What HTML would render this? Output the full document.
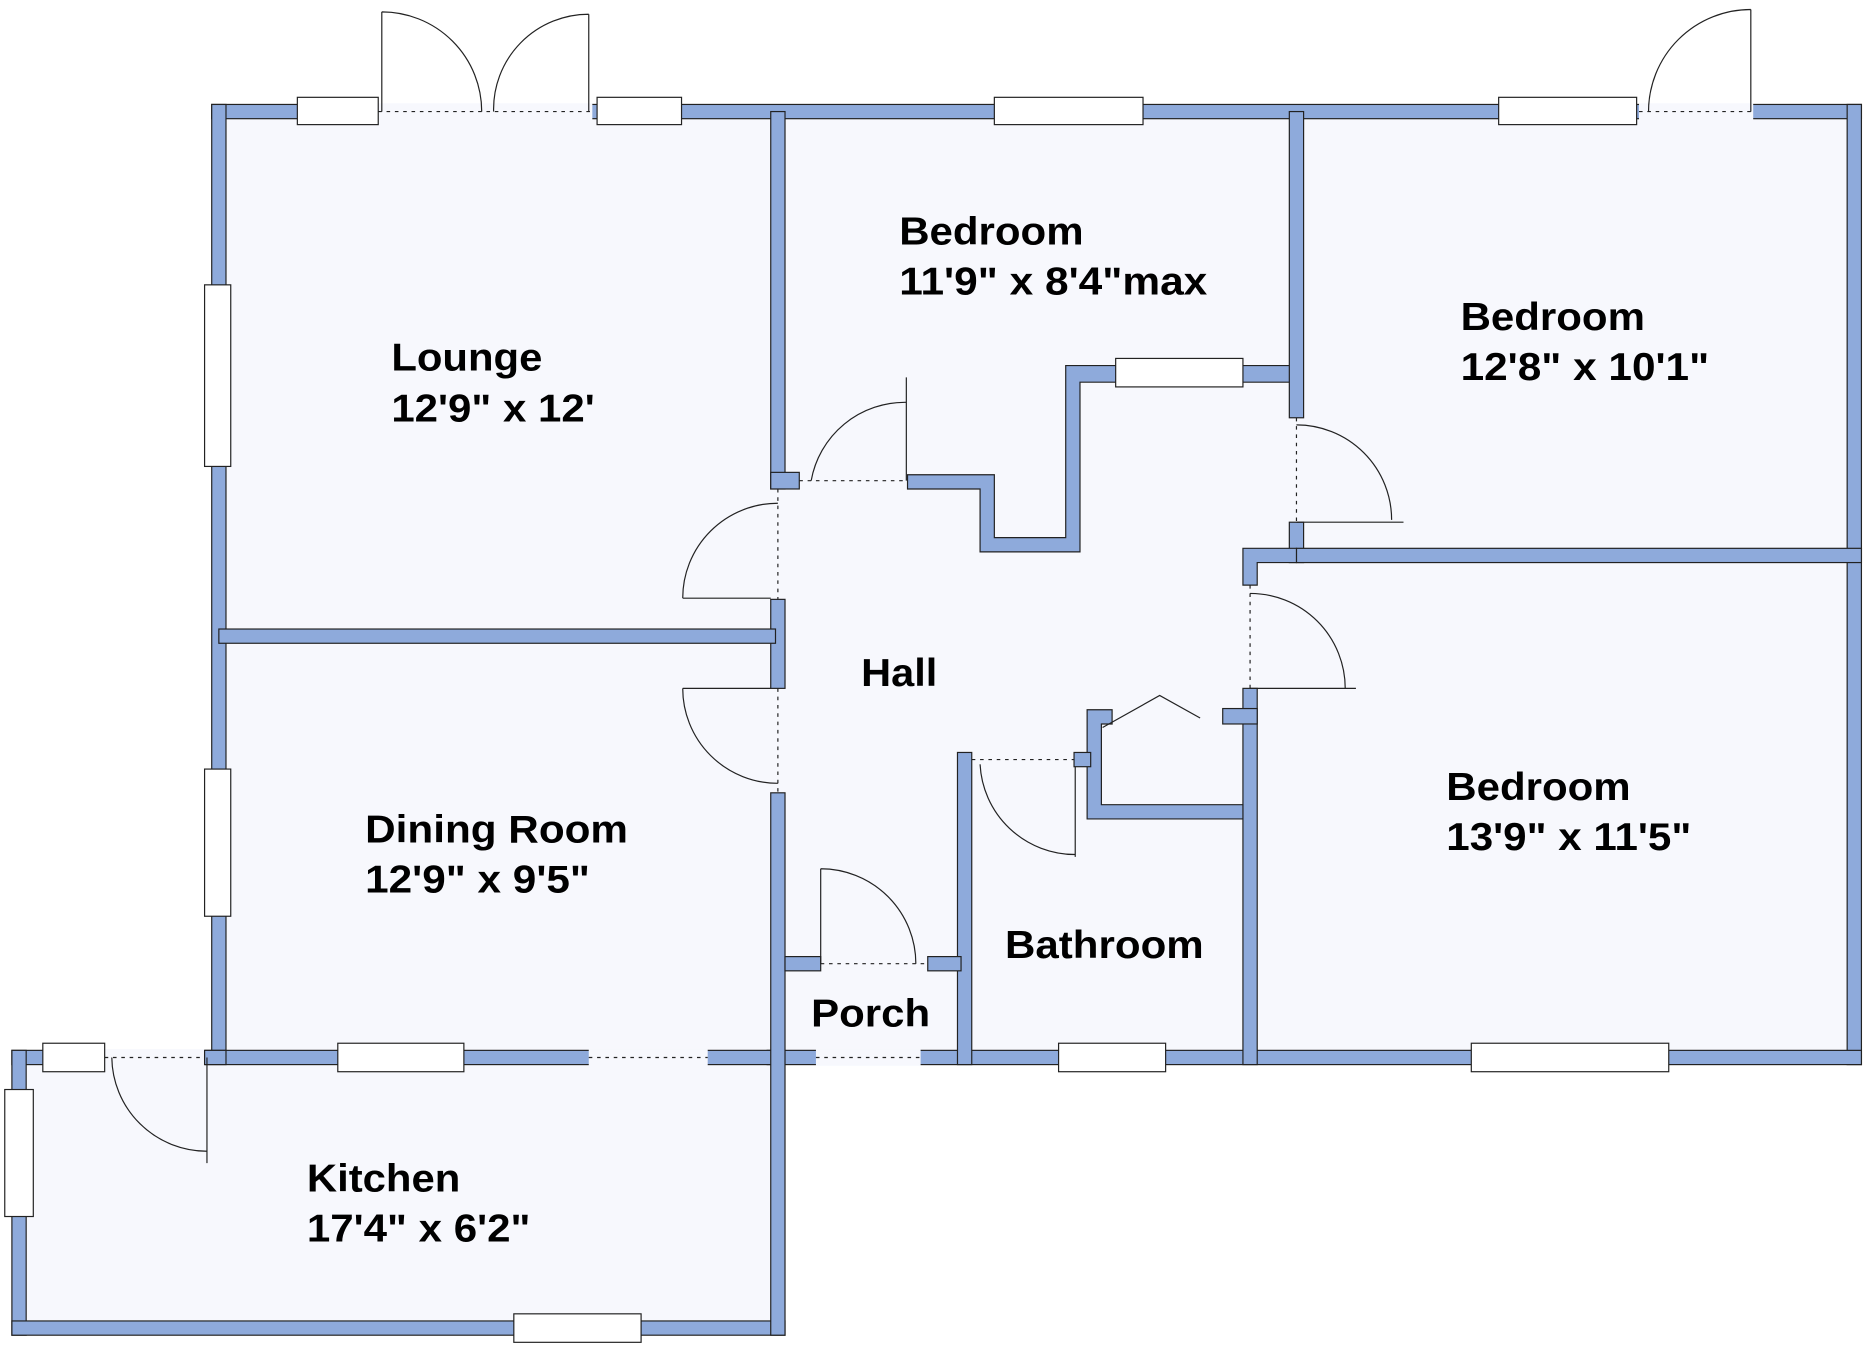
<!DOCTYPE html>
<html><head><meta charset="utf-8"><style>
html,body{margin:0;padding:0;background:#fff;}
svg{display:block}
text{font-family:"Liberation Sans",Arial,sans-serif;font-weight:bold;font-size:33px;fill:#000}
.w{fill:#8eaadb;stroke:#222;stroke-width:1}
.win{fill:#fff;stroke:#222;stroke-width:1}
.d{fill:none;stroke:#222;stroke-width:1}
.dot{stroke:#222;stroke-width:1;stroke-dasharray:3 4;fill:none}
</style></head><body>
<svg width="1865" height="1353" viewBox="0 0 1568 1140" preserveAspectRatio="none">
<rect width="1568" height="1140" fill="#fff"/>
<path d="M184 94 H1559 V891 H654 V1119 H16 V891 H184 Z" fill="#f7f8fd"/>
<rect class="w" x="178" y="88" width="1387" height="12"/>
<rect x="318" y="87" width="180" height="14" fill="#f7f8fd"/>
<rect x="1378" y="87" width="96" height="14" fill="#f7f8fd"/>
<line class="dot" x1="318" y1="94" x2="498" y2="94"/>
<line class="dot" x1="1378" y1="94" x2="1474" y2="94"/>
<rect class="win" x="250" y="82" width="68" height="23"/>
<rect class="win" x="502" y="82" width="71" height="23"/>
<rect class="win" x="836" y="82" width="125" height="23"/>
<rect class="win" x="1260" y="82" width="116" height="23"/>
<path class="d" d="M321 94 V10 M321 10 A84 84 0 0 1 405 94"/>
<path class="d" d="M495 94 V12 M495 12 A80 80 0 0 0 415 94"/>
<path class="d" d="M1472 94 V8 M1472 8 A86 86 0 0 0 1386 94"/>
<rect class="w" x="178" y="88" width="12" height="808"/>
<rect class="win" x="172" y="240" width="22" height="153"/>
<rect class="win" x="172" y="648" width="22" height="124"/>
<rect class="w" x="1553" y="88" width="12" height="809"/>
<rect class="w" x="645" y="885" width="920" height="12"/>
<rect x="686" y="884" width="88" height="14" fill="#f7f8fd"/>
<line class="dot" x1="686" y1="891" x2="774" y2="891"/>
<rect class="win" x="890" y="879" width="90" height="24"/>
<rect class="win" x="1237" y="879" width="166" height="24"/>
<rect class="w" x="10" y="885" width="640" height="12"/>
<rect x="495" y="884" width="100" height="14" fill="#f7f8fd"/>
<line class="dot" x1="495" y1="891" x2="595" y2="891"/>
<rect x="88" y="884" width="84" height="14" fill="#f7f8fd"/>
<line class="dot" x1="88" y1="891" x2="172" y2="891"/>
<rect class="w" x="172" y="885" width="18" height="12"/>
<rect class="win" x="36" y="879" width="52" height="24"/>
<rect class="win" x="284" y="879" width="106" height="24"/>
<path class="d" d="M174 891 V980 M174 970 A80 80 0 0 1 94 891"/>
<rect class="w" x="10" y="885" width="12" height="240"/>
<rect class="w" x="10" y="1113" width="650" height="12"/>
<rect class="w" x="648" y="668" width="12" height="457"/>
<rect class="win" x="4" y="918" width="24" height="107"/>
<rect class="win" x="432" y="1107" width="107" height="24"/>
<rect class="w" x="648" y="94" width="12" height="318"/>
<rect class="w" x="648" y="398" width="24" height="14"/>
<rect class="w" x="648" y="505" width="12" height="75"/>
<line class="dot" x1="654" y1="412" x2="654" y2="505"/>
<line class="dot" x1="654" y1="580" x2="654" y2="668"/>
<path class="d" d="M654 424 A80 80 0 0 0 574 504 M574 504 H648"/>
<path class="d" d="M654 660 A80 80 0 0 1 574 580 M574 580 H648"/>
<rect class="w" x="184" y="530" width="468" height="12"/>
<line class="dot" x1="672" y1="405" x2="763" y2="405"/>
<path class="d" d="M762 405 V318 M762 339 A80 80 0 0 0 682 405"/>
<path class="w" d="M763 400 H836 V453 H896 V308 H1090 V322 H908 V465 H824 V412 H763 Z"/>
<rect class="win" x="938" y="302" width="107" height="24"/>
<rect class="w" x="1084" y="94" width="12" height="258"/>
<rect class="w" x="1084" y="440" width="12" height="34"/>
<line class="dot" x1="1090" y1="352" x2="1090" y2="440"/>
<path class="d" d="M1090 440 H1180 M1090 358 A80 80 0 0 1 1170 438"/>
<rect class="w" x="1090" y="462" width="475" height="12"/>
<path class="w" d="M1045 462 H1090 V474 H1057 V493 H1045 Z"/>
<rect class="w" x="1045" y="580" width="12" height="317"/>
<rect class="w" x="1028" y="597" width="29" height="13"/>
<line class="dot" x1="1051" y1="493" x2="1051" y2="580"/>
<path class="d" d="M1051 580 H1140 M1051 500 A80 80 0 0 1 1131 580"/>
<path class="w" d="M914 598 H935 V610 H926 V678 H1045 V690 H914 Z"/>
<path class="d" d="M927 613 L975 586 L1009 605"/>
<rect class="w" x="805" y="634" width="12" height="263"/>
<rect class="w" x="903" y="634" width="14" height="12"/>
<line class="dot" x1="817" y1="640" x2="903" y2="640"/>
<path class="d" d="M904 646 V722 M904 720 A80 80 0 0 1 824 644"/>
<rect class="w" x="660" y="806" width="30" height="12"/>
<rect class="w" x="780" y="806" width="28" height="12"/>
<line class="dot" x1="690" y1="812" x2="780" y2="812"/>
<path class="d" d="M690 812 V732 M690 732 A80 80 0 0 1 770 812"/>
<text x="756" y="206" textLength="155" lengthAdjust="spacingAndGlyphs">Bedroom</text>
<text x="756" y="248" textLength="259" lengthAdjust="spacingAndGlyphs">11'9" x 8'4"max</text>
<text x="1228" y="278" textLength="155" lengthAdjust="spacingAndGlyphs">Bedroom</text>
<text x="1228" y="320" textLength="209" lengthAdjust="spacingAndGlyphs">12'8" x 10'1"</text>
<text x="329" y="312" textLength="127" lengthAdjust="spacingAndGlyphs">Lounge</text>
<text x="329" y="355" textLength="171" lengthAdjust="spacingAndGlyphs">12'9" x 12'</text>
<text x="724" y="578" textLength="64" lengthAdjust="spacingAndGlyphs">Hall</text>
<text x="1216" y="674" textLength="155" lengthAdjust="spacingAndGlyphs">Bedroom</text>
<text x="1216" y="716" textLength="206" lengthAdjust="spacingAndGlyphs">13'9" x 11'5"</text>
<text x="307" y="710" textLength="221" lengthAdjust="spacingAndGlyphs">Dining Room</text>
<text x="307" y="752" textLength="189" lengthAdjust="spacingAndGlyphs">12'9" x 9'5"</text>
<text x="845" y="807" textLength="167" lengthAdjust="spacingAndGlyphs">Bathroom</text>
<text x="682" y="865" textLength="100" lengthAdjust="spacingAndGlyphs">Porch</text>
<text x="258" y="1004" textLength="129" lengthAdjust="spacingAndGlyphs">Kitchen</text>
<text x="258" y="1046" textLength="188" lengthAdjust="spacingAndGlyphs">17'4" x 6'2"</text>
</svg>
</body></html>
